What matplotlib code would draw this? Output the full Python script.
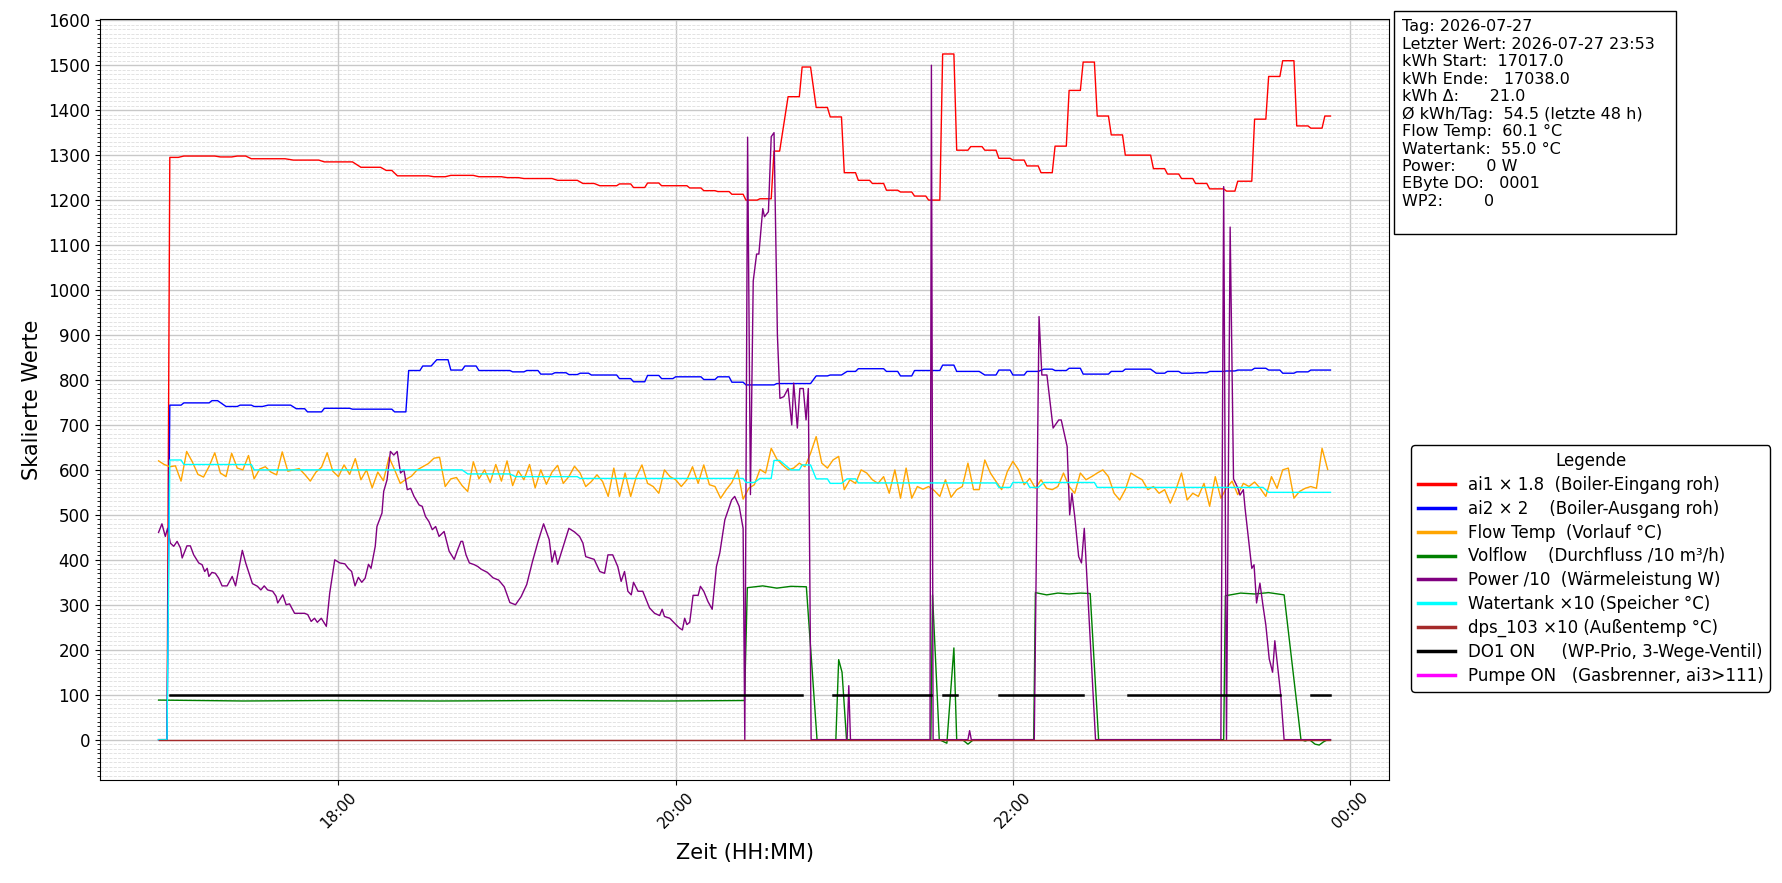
import numpy as np
import matplotlib
matplotlib.use("Agg")
import matplotlib.pyplot as plt
import matplotlib.dates as mdates
from matplotlib.ticker import MultipleLocator
from matplotlib.lines import Line2D
from matplotlib.patches import Rectangle

# ---------------- data (minutes after 16:56 on 2026-07-27) ----------------
START = "2026-07-27T16:56:00"

# ai1 x 1.8 : plateaus (from_min, to_min, value)
red_steps = [(0, 3, 0), (4, 7, 1295), (9, 20, 1298), (22, 26, 1296), (28, 31, 1298),
             (33, 45, 1292), (48, 57, 1289), (59, 69, 1285), (72, 79, 1273), (81, 83, 1266),
             (85, 96, 1254), (98, 102, 1252), (104, 112, 1255), (114, 122, 1252), (124, 128, 1250),
             (130, 140, 1248), (142, 149, 1244), (151, 155, 1237), (157, 163, 1232), (164, 168, 1236),
             (169, 173, 1228), (174, 178, 1238), (179, 188, 1232), (189, 193, 1227), (194, 198, 1221),
             (199, 203, 1219), (204, 208, 1213), (209, 213, 1200), (214, 218, 1203), (219, 221, 1309),
             (224, 228, 1430), (229, 232, 1496), (234, 238, 1406), (239, 243, 1385), (244, 248, 1261),
             (249, 253, 1244), (254, 258, 1237), (259, 263, 1222), (264, 268, 1218), (269, 273, 1209),
             (274, 278, 1200), (279, 283, 1525), (284, 288, 1311), (289, 293, 1319), (294, 298, 1311),
             (299, 303, 1293), (304, 308, 1289), (309, 313, 1276), (314, 318, 1261), (319, 323, 1320),
             (324, 328, 1444), (329, 333, 1507), (334, 338, 1387), (339, 343, 1345), (344, 353, 1300),
             (354, 358, 1270), (359, 363, 1258), (364, 368, 1248), (369, 373, 1237), (374, 379, 1225),
             (380, 383, 1220), (384, 389, 1242), (390, 394, 1380), (395, 399, 1475), (400, 404, 1510),
             (405, 409, 1365), (410, 414, 1360), (415, 417, 1387)]

# ai2 x 2 : plateaus
blue_steps = [(0, 3, 0), (4, 8, 744), (9, 18, 749), (19, 21, 754), (24, 28, 741), (29, 33, 744),
              (34, 37, 741), (39, 47, 744), (49, 52, 736), (53, 58, 729), (59, 68, 737), (69, 83, 735),
              (84, 88, 729), (89, 93, 821), (94, 97, 831), (99, 103, 845), (104, 108, 822), (109, 113, 831),
              (114, 125, 821), (126, 130, 818), (131, 135, 821), (136, 140, 813), (141, 145, 816),
              (146, 149, 812), (150, 153, 815), (154, 163, 811), (164, 168, 803), (169, 173, 796),
              (174, 178, 810), (179, 183, 803), (184, 193, 807), (194, 198, 801), (199, 203, 807),
              (204, 208, 795), (209, 219, 789), (220, 232, 792), (234, 238, 809), (239, 243, 811),
              (245, 248, 819), (249, 258, 825), (259, 263, 819), (264, 268, 809), (269, 278, 821),
              (279, 283, 833), (284, 292, 819), (294, 298, 811), (299, 303, 822), (304, 308, 811),
              (309, 313, 819), (315, 318, 824), (319, 323, 821), (324, 328, 826), (329, 338, 813),
              (339, 343, 819), (344, 353, 824), (355, 358, 815), (359, 363, 819), (364, 368, 815),
              (369, 373, 816), (374, 379, 819), (380, 383, 820), (384, 389, 822), (390, 394, 826),
              (395, 399, 822), (400, 404, 815), (405, 409, 818), (410, 417, 822)]

# Watertank x 10 : plateaus
cyan_steps = [(0, 3, 0), (4, 8, 622), (9, 33, 612), (34, 108, 600), (110, 125, 591), (127, 149, 585),
              (150, 208, 581), (209, 212, 572), (214, 218, 581), (219, 221, 621), (225, 228, 600),
              (229, 232, 611), (234, 238, 580), (239, 243, 570), (245, 248, 580), (249, 298, 571),
              (299, 303, 561), (304, 309, 572), (310, 313, 561), (315, 333, 572), (334, 393, 561),
              (395, 417, 550)]

# Flow Temp (sampled every 2 minutes, 0..416)
flow_step_min = 2
flow_vals = [620, 612, 607, 609, 575, 641, 618, 590, 584, 608, 638, 593, 585, 637, 604, 600, 632, 580,
             602, 607, 595, 589, 640, 597, 600, 603, 590, 575, 595, 606, 638, 597, 585, 611, 590, 625,
             578, 600, 560, 595, 576, 628, 600, 570, 579, 586, 600, 607, 614, 626, 628, 563, 580, 583,
             565, 552, 618,
             580, 600, 572, 612, 575, 620, 565, 598, 578, 612, 560, 600, 568, 595, 610, 570, 585, 608,
             593, 563, 574, 589, 574, 541, 604, 541, 593, 541, 585, 611, 570, 563, 548, 600, 585, 578,
             563, 578, 607, 570, 611, 567, 563, 537, 556, 572, 600, 535, 559, 567, 601, 593, 648, 624,
             611, 600, 604, 615, 607, 637, 674, 615, 604, 622, 630, 556, 578, 570, 600, 593, 578, 570,
             585, 548, 600, 537, 604, 537, 563, 557, 563, 554, 541, 578, 539, 556, 563, 615, 556, 556,
             622, 593, 574, 556, 596, 619, 600, 567, 581, 559, 578, 559, 556, 563, 593, 563, 548, 593,
             578, 585, 593, 600, 585, 548, 533, 556, 593, 585, 578, 556, 563, 548, 556, 526, 556, 593,
             533, 548, 541, 570, 519, 585, 537,
             560, 575, 545, 570, 563, 573, 559, 541, 585, 559, 600, 604, 537, 552, 559, 563, 559, 648, 601]

# Volflow (minute, value)
green_t = [0, 30, 60, 100, 140, 180, 208.5, 209.5, 215, 220, 225, 230.5, 234.3, 241, 242, 243.2,
           244.8, 274.8, 275.4, 277.8, 280.5, 283, 284, 286, 288, 290, 311.4, 312, 316, 320, 324,
           328, 331.5, 334.5, 379, 379.6, 385, 390, 395, 400.5, 406.5, 408, 409.5, 411.5, 413,
           414.5, 416, 417]
green_v = [88, 86, 87, 86, 87, 86, 87, 338, 342, 337, 341, 340, 0, 0, 178, 150,
           0, 0, 322, 0, -8, 204, 0, 0, -10, 0, 0, 327, 322, 326, 324,
           326, 325, 0, 0, 320, 326, 324, 327, 322, 0, -3, 0, -10, -12,
           -5, 0, 0]

# Power / 10 (minute, value)
purple_t = [0, 1.2, 2.4, 3.2, 4.2, 5.4, 6.6, 7.8, 8.4, 10.1, 11.3, 12.5, 14.3, 15.5, 16.4, 17.3, 17.9,
            19.0, 20.2, 21.4, 22.6, 24.4, 26.2, 27.4, 29.8, 31.0, 32.2, 33.4, 35.2, 36.4, 37.6, 38.8,
            40.6, 41.8, 42.4, 44.2, 45.4, 46.6, 48.4, 52.0, 53.1, 54.3, 55.5, 56.5, 57.9, 59.7, 60.9,
            62.7, 64.5, 66.3, 67.5, 68.7, 69.9, 71.1, 72.3, 73.5, 74.7, 75.6, 77.1, 77.7, 79.5, 80.1,
            81.3, 82.5, 83.7, 84.9, 86.1, 87.3, 88.5, 89.7, 90.9, 92.7, 93.8, 95.0, 96.2, 97.4, 98.6,
            99.8, 101.6, 103.4, 105.2, 106.4, 107.6, 108.2, 109.4, 110.6, 112.4, 113.6, 114.8,
            117, 119, 121, 123, 125, 127, 129, 131, 133, 135, 137, 139, 140, 141, 142, 144, 146, 148,
            149.8, 151, 152, 155, 157, 158.7, 159.9, 161.6, 163.4, 164.6, 165.8, 167, 168.2, 169,
            170.6, 172.3, 174.7, 176.5, 178.3, 179.2, 180, 181.9, 183.6, 185.4, 186.4, 187.2, 188,
            189, 190.2, 192, 192.8, 194, 195.5, 197, 198.5, 199.7, 201.5, 202.7, 203.9, 205, 206.6,
            208, 208.6, 209.6, 210.6, 211.6, 212.8, 213.6, 215, 215.6, 217, 218, 219, 220.2, 221.1,
            222.5, 224, 225.3, 226, 227.3, 228.2, 229.4, 230.4, 231.2, 232.2, 245, 245.6, 246.2,
            274.5, 275.0, 275.6, 288, 288.6, 289.2, 311.6, 313.3, 314.3, 316.1, 318.3, 320.3, 321.2,
            323.3, 324.2, 325, 326, 327.4, 328.4, 329.4, 333.4, 378, 379, 380, 381.3, 382.5, 384,
            384.8, 386, 386.6, 387.8, 389, 389.8, 390.7, 391.9, 393.1, 394, 395.2, 396.4, 397.2,
            399.3, 400.5, 417]
purple_v = [461, 480, 452, 470, 437, 430, 441, 426, 404, 431, 431, 411, 393, 389, 374, 381, 363,
            372, 370, 359, 342, 342, 363, 342, 421, 393, 370, 347, 341, 333, 342, 333,
            330, 319, 304, 322, 300, 302, 281, 281, 278, 263, 270, 261, 270, 252, 326,
            400, 393, 391, 381, 374, 342, 361, 350, 359, 390, 381, 430, 474, 504, 552,
            578, 641, 633, 641, 593, 600, 556, 559, 541, 522, 519, 496, 485, 467, 474,
            452, 463, 419, 401, 422, 441, 441, 411, 393, 389, 385, 379,
            372, 360, 355, 340, 305, 300, 318, 345, 395, 440, 480, 445, 395, 420, 390, 430, 470, 462,
            452, 437, 407, 401, 374, 370, 411, 411, 385, 352, 374, 330, 322, 350,
            330, 330, 293, 281, 276, 290, 274, 270, 259, 248, 244, 270, 256,
            261, 321, 321, 341, 330, 307, 290, 385, 415, 489, 511, 533, 541, 519,
            470, 0, 1340, 545, 1020, 1080, 1080, 1181, 1163, 1174, 1341, 1350, 900, 759,
            763, 781, 700, 793, 693, 781, 781, 711, 781, 0, 0, 120, 0,
            0, 1500, 0, 0, 20, 0, 0, 941, 811, 811, 693, 711, 711,
            652, 500, 548, 496, 407, 393, 470, 0, 0, 1230, 0, 1140, 580, 560,
            544, 556, 515, 448, 381, 389, 304, 348, 293, 255, 180, 150, 220,
            100, 0, 0]

# dps_103 x 10 (outside temp) : plateaus
brown_steps = [(0, 417, 0)]

# DO1 ON periods (value 100 while on)
do1_on_periods = [(4, 229), (240, 275), (279, 284), (299, 329), (345, 399), (410, 417)]
do1_level = 100

# Pumpe ON periods (none in this window)
pump_on_periods = []

legend_labels = ["ai1 × 1.8  (Boiler-Eingang roh)",
                 "ai2 × 2    (Boiler-Ausgang roh)",
                 "Flow Temp  (Vorlauf °C)",
                 "Volflow    (Durchfluss /10 m³/h)",
                 "Power /10  (Wärmeleistung W)",
                 "Watertank ×10 (Speicher °C)",
                 "dps_103 ×10 (Außentemp °C)",
                 "DO1 ON     (WP-Prio, 3-Wege-Ventil)",
                 "Pumpe ON   (Gasbrenner, ai3>111)"]
legend_colors = ["red", "blue", "orange", "green", "purple", "cyan", "brown", "black", "magenta"]

info_lines = ["Tag: 2026-07-27",
              "Letzter Wert: 2026-07-27 23:53",
              "kWh Start:  17017.0",
              "kWh Ende:   17038.0",
              "kWh Δ:      21.0",
              "Ø kWh/Tag:  54.5 (letzte 48 h)",
              "Flow Temp:  60.1 °C",
              "Watertank:  55.0 °C",
              "Power:      0 W",
              "EByte DO:   0001",
              "WP2:        0"]

# ---------------- helpers ----------------
base = np.datetime64(START)


def to_time(minutes):
    secs = np.round(np.asarray(minutes, dtype=float) * 60).astype("int64")
    return base + secs.astype("timedelta64[s]")


def from_steps(steps):
    t, v = [], []
    for s, e, val in steps:
        t.append(s)
        v.append(val)
        if e != s:
            t.append(e)
            v.append(val)
    return t, v


def from_periods(periods, level):
    t, v = [], []
    for s, e in periods:
        t += [s, e, e]
        v += [level, level, np.nan]
    return t, v


# ---------------- figure ----------------
fig = plt.figure(figsize=(17.82, 8.83), dpi=100)
ax = fig.add_axes([0.0561, 0.1171, 0.7234, 0.8609])

lw = 1.0
rt, rv = from_steps(red_steps)
ax.plot(to_time(rt), rv, color="red", lw=lw)
bt, bv = from_steps(blue_steps)
ax.plot(to_time(bt), bv, color="blue", lw=lw)
ft = np.arange(len(flow_vals)) * flow_step_min
ax.plot(to_time(ft), flow_vals, color="orange", lw=lw)
ax.plot(to_time(green_t), green_v, color="green", lw=lw)
ax.plot(to_time(purple_t), purple_v, color="purple", lw=lw)
ct, cv = from_steps(cyan_steps)
ax.plot(to_time(ct), cv, color="cyan", lw=lw)
dt, dv = from_steps(brown_steps)
ax.plot(to_time(dt), dv, color="brown", lw=lw)
ot, ov = from_periods(do1_on_periods, do1_level)
ax.plot(to_time(ot), ov, color="black", lw=1.8)
if pump_on_periods:
    pt, pv = from_periods(pump_on_periods, 100)
    ax.plot(to_time(pt), pv, color="magenta", lw=1.8)

ax.margins(x=0.05, y=0.05)
ax.yaxis.set_major_locator(MultipleLocator(100))
ax.yaxis.set_minor_locator(MultipleLocator(10))
ax.xaxis.set_major_locator(mdates.HourLocator(interval=2))
ax.xaxis.set_major_formatter(mdates.DateFormatter("%H:%M"))
ax.grid(True, which="major", color="#c8c8c8", lw=1.0)
ax.grid(True, which="minor", axis="y", color="#dedede", lw=0.6, ls="--")
ax.set_axisbelow(True)
ax.tick_params(axis="x", labelsize=11)
ax.tick_params(axis="y", labelsize=12)
for lab in ax.get_xticklabels():
    lab.set_rotation(45)
ax.set_xlabel("Zeit (HH:MM)", fontsize=15, labelpad=9)
ax.set_ylabel("Skalierte Werte", fontsize=15)

handles = [Line2D([0], [0], color=c, lw=2.5) for c in legend_colors]
leg = fig.legend(handles, legend_labels, title="Legende", loc="upper left",
                 bbox_to_anchor=(0.792, 0.4955), bbox_transform=fig.transFigure,
                 borderaxespad=0, fontsize=12, title_fontsize=12, handlelength=2.2,
                 labelspacing=0.35, framealpha=1)
leg.get_frame().set_edgecolor("black")

# info box
fig.patches.append(Rectangle((0.7825, 0.7349), 0.1582, 0.2522, transform=fig.transFigure,
                             facecolor="white", edgecolor="black", lw=1.0, zorder=1))
fig.text(0.787, 0.978, "\n".join(info_lines), ha="left", va="top", fontsize=11.5,
         linespacing=1.2, zorder=2)

fig.savefig("out.png", dpi=100)
